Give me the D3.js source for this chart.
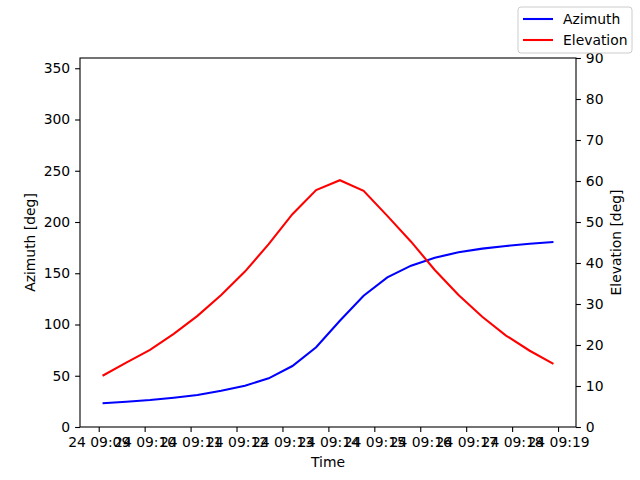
<!DOCTYPE html>
<html>
<head>
<meta charset="utf-8">
<script src="https://cdn.jsdelivr.net/npm/d3@7"></script>
<style>
  body { margin: 0; background: #fff; }
  svg text { font-family: "DejaVu Sans", sans-serif; fill: #000; }
</style>
</head>
<body>
<svg id="chart"></svg>
<script>
// Sample times (24th, hh:mm:ss)
const times = [
  "09:09:05", "09:09:36", "09:10:07", "09:10:38", "09:11:09",
  "09:11:40", "09:12:11", "09:12:42", "09:13:13", "09:13:44",
  "09:14:15", "09:14:46", "09:15:17", "09:15:48", "09:16:19",
  "09:16:50", "09:17:21", "09:17:52", "09:18:23", "09:18:54"
];
// Azimuth [deg]
const azimuth = [
  23.1, 24.7, 26.3, 28.6, 31.2, 35.4, 40.3, 47.5, 59.5, 77.8,
  103.7, 128.1, 146.0, 157.4, 165.2, 170.4, 174.0, 176.6, 178.8, 180.5
];
// Elevation [deg]
const elevation = [
  12.5, 15.7, 18.8, 22.7, 27.1, 32.2, 37.9, 44.6, 51.9, 57.8,
  60.2, 57.6, 51.5, 45.2, 38.3, 32.2, 26.9, 22.3, 18.6, 15.4
];
const leftTicks = [0, 50, 100, 150, 200, 250, 300, 350];
const rightTicks = [0, 10, 20, 30, 40, 50, 60, 70, 80, 90];
const timeTicks = ["09:09", "09:10", "09:11", "09:12", "09:13", "09:14",
                   "09:15", "09:16", "09:17", "09:18", "09:19"];

const W = 640, H = 480;
const margin = { top: 58, right: 64, bottom: 53, left: 80 };
const width = W - margin.left - margin.right;
const height = H - margin.top - margin.bottom;

const parse = d3.timeParse("%Y-%m-%d %H:%M:%S");
const dates = times.map(t => parse("2023-10-24 " + t));
const tickDates = timeTicks.map(t => parse("2023-10-24 " + t + ":00"));

const root = d3.select("#chart").attr("width", W).attr("height", H);
const svg = root.append("g")
    .attr("transform", `translate(${margin.left},${margin.top})`);

// X scale with matplotlib-like 5% margins
const t0 = d3.min(dates), t1 = d3.max(dates);
const pad = (t1 - t0) * 0.05;
const x = d3.scaleTime()
    .domain([new Date(+t0 - pad), new Date(+t1 + pad)])
    .range([0, width]);

const yL = d3.scaleLinear().domain([0, 360]).range([height, 0]);
const yR = d3.scaleLinear().domain([0, 90]).range([height, 0]);

const fs = "13.9px";
const tickLen = 4.9;

// Lines
const lineAz = d3.line().x((d, i) => x(dates[i])).y(d => yL(d));
const lineEl = d3.line().x((d, i) => x(dates[i])).y(d => yR(d));

svg.append("path").datum(azimuth)
    .attr("d", lineAz)
    .attr("fill", "none").attr("stroke", "#0000ff").attr("stroke-width", 2.08);

svg.append("path").datum(elevation)
    .attr("d", lineEl)
    .attr("fill", "none").attr("stroke", "#ff0000").attr("stroke-width", 2.08);

// Axes
function styleAxis(g) {
  g.select(".domain").remove();
  g.selectAll(".tick line").attr("stroke", "#000").attr("stroke-width", 1.1);
  g.selectAll(".tick text").style("font-size", fs).attr("fill", "#000");
}

svg.append("g")
    .attr("transform", `translate(0,${height})`)
    .call(d3.axisBottom(x).tickValues(tickDates)
      .tickFormat(d3.timeFormat("%d %H:%M"))
      .tickSizeInner(tickLen).tickSizeOuter(0).tickPadding(4.9))
    .call(styleAxis);

svg.append("g")
    .call(d3.axisLeft(yL).tickValues(leftTicks)
      .tickSizeInner(tickLen).tickSizeOuter(0).tickPadding(4.9))
    .call(styleAxis);

svg.append("g")
    .attr("transform", `translate(${width},0)`)
    .call(d3.axisRight(yR).tickValues(rightTicks)
      .tickSizeInner(tickLen).tickSizeOuter(0).tickPadding(4.9))
    .call(styleAxis);

// Frame (spines)
svg.append("rect")
    .attr("x", 0).attr("y", 0).attr("width", width).attr("height", height)
    .attr("fill", "none").attr("stroke", "#000").attr("stroke-width", 1.1);

// Axis labels
svg.append("text")
    .attr("x", width / 2).attr("y", height + 40)
    .attr("text-anchor", "middle").style("font-size", fs)
    .text("Time");

svg.append("text")
    .attr("transform", `translate(${-45},${height / 2}) rotate(-90)`)
    .attr("text-anchor", "middle").style("font-size", fs)
    .text("Azimuth [deg]");

svg.append("text")
    .attr("transform", `translate(${width + 45},${height / 2}) rotate(-90)`)
    .attr("text-anchor", "middle").style("font-size", fs)
    .text("Elevation [deg]");

// Legend (figure-level, top right)
const legend = root.append("g").attr("transform", "translate(518,7)");
legend.append("rect")
    .attr("width", 114).attr("height", 46).attr("rx", 3)
    .attr("fill", "#fff").attr("fill-opacity", 0.8)
    .attr("stroke", "#cccccc").attr("stroke-width", 1);

const legendItems = [
  { name: "Azimuth", color: "#0000ff" },
  { name: "Elevation", color: "#ff0000" }
];
legendItems.forEach((d, i) => {
  const gy = 12 + i * 21;
  legend.append("line")
      .attr("x1", 5).attr("x2", 35).attr("y1", gy).attr("y2", gy)
      .attr("stroke", d.color).attr("stroke-width", 2.08);
  legend.append("text")
      .attr("x", 45).attr("y", gy + 5)
      .style("font-size", fs)
      .text(d.name);
});
</script>
</body>
</html>
